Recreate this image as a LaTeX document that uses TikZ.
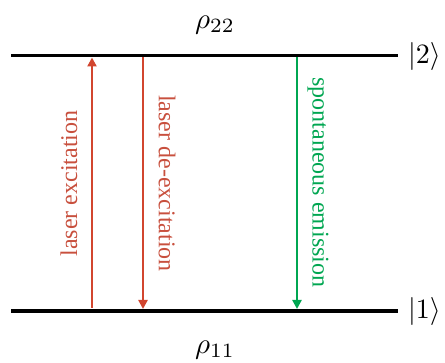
\documentclass[tikz,border=0pt]{standalone}
\usepackage{graphicx}
\usepackage{fontspec}
\setmainfont{Liberation Serif}
\usetikzlibrary{arrows.meta}
\definecolor{lred}{HTML}{D2462F}
\definecolor{tred}{HTML}{C8503E}
\definecolor{lgreen}{HTML}{00A651}
\newcommand{\mybigmath}[2]{\scalebox{#1}{$#2$}}
\tikzset{
  level/.style={line width=3.5pt, black},
  tr/.style={line width=2.6pt, -{Triangle[length=9pt,width=9pt]}},
  lbl/.style={font=\fontsize{24}{24}\selectfont, inner sep=0pt},
  mathlbl/.style={inner sep=0pt}
}
\begin{document}
\begin{tikzpicture}[x=1pt,y=-1pt]
\useasboundingbox (0,0) rectangle (445,363);
\coordinate (t1) at (11,55.5);
\coordinate (t2) at (398,55.5);
\coordinate (b1) at (11,311);
\coordinate (b2) at (398,311);
\draw[level] (t1) -- (t2);
\draw[level] (b1) -- (b2);
\node[mathlbl] (r22) at (215,25) {\mybigmath{2.9}{\rho_{22}}};
\node[mathlbl] (r11) at (215,350) {\mybigmath{2.9}{\rho_{11}}};
\node[mathlbl, anchor=west] (k2) at (408,57) {\mybigmath{2.8}{|2\rangle}};
\node[mathlbl, anchor=west] (k1) at (408,312) {\mybigmath{2.8}{|1\rangle}};
\coordinate (a1s) at (92,308);
\coordinate (a1e) at (92,57.5);
\coordinate (a2s) at (143,57.5);
\coordinate (a2e) at (143,309);
\coordinate (a3s) at (297,57.5);
\coordinate (a3e) at (297,309);
\draw[tr, lred] (a1s) -- (a1e);
\draw[tr, lred] (a2s) -- (a2e);
\draw[tr, lgreen] (a3s) -- (a3e);
\node[lbl, tred, rotate=90] (l1) at (69,183.5) {laser excitation};
\node[lbl, tred, rotate=-90] (l2) at (167,183.5) {laser de-excitation};
\node[lbl, lgreen, rotate=-90] (l3) at (318,182.5) {spontaneous emission};
\end{tikzpicture}
\end{document}
